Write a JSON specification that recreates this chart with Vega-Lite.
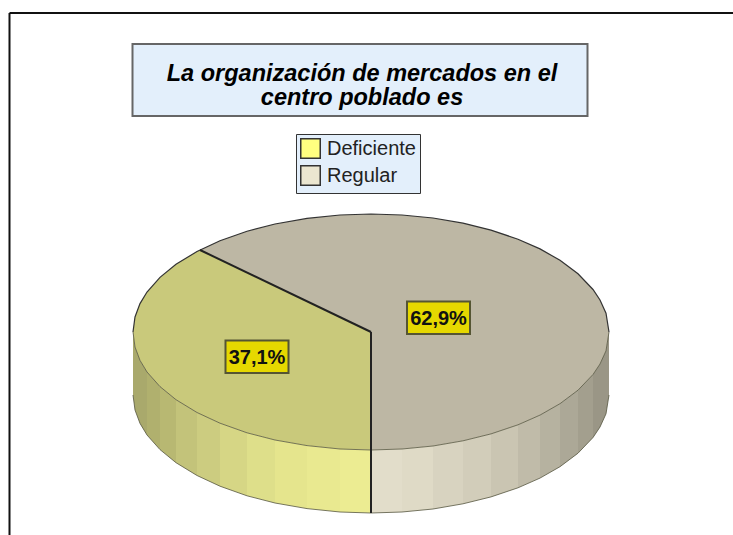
{
"$schema":"https://vega.github.io/schema/vega-lite/v6.json",
"width":733,"height":535,"padding":0,"autosize":{"type":"none"},"background":"white",
"view":{"stroke":null},
"title":{"text":["La organización de mercados en el","centro poblado es"],"frame":"group","anchor":"middle","orient":"top","offset":-128,"dx":-4.5,"font":"Liberation Sans","fontSize":23.5,"fontWeight":"bold","fontStyle":"italic","color":"#000000","lineHeight":24,"baseline":"alphabetic"},
"datasets":{
"frame":[{"x":9.5,"x2":733,"y":13,"y2":13},{"x":9.5,"x2":9.5,"y":13,"y2":535}],
"boxes":[{"x":132.5,"x2":587.5,"y":44,"y2":116}],
"walls":[
{"s":"w1","x":133,"y":332,"y2":395},{"s":"w1","x":135,"y":347,"y2":410},{"s":"w1","x":140,"y":360.4,"y2":423.4},{"s":"w1","x":147,"y":372,"y2":435},
{"s":"w2","x":147,"y":372,"y2":435},{"s":"w2","x":160,"y":386.6,"y2":449.6},
{"s":"w3","x":160,"y":386.6,"y2":449.6},{"s":"w3","x":176,"y":399.7,"y2":462.7},
{"s":"w4","x":176,"y":399.7,"y2":462.7},{"s":"w4","x":197,"y":412.5,"y2":475.5},
{"s":"w5","x":197,"y":412.5,"y2":475.5},{"s":"w5","x":220,"y":423.2,"y2":486.2},
{"s":"w6","x":220,"y":423.2,"y2":486.2},{"s":"w6","x":247,"y":432.8,"y2":495.8},
{"s":"w7","x":247,"y":432.8,"y2":495.8},{"s":"w7","x":275,"y":440,"y2":503},
{"s":"w8","x":275,"y":440,"y2":503},{"s":"w8","x":307,"y":445.6,"y2":508.6},
{"s":"w9","x":307,"y":445.6,"y2":508.6},{"s":"w9","x":340,"y":449,"y2":512},
{"s":"w10","x":340,"y":449,"y2":512},{"s":"w10","x":371,"y":450,"y2":513},
{"s":"r1","x":371,"y":450,"y2":513},{"s":"r1","x":402,"y":449,"y2":512},
{"s":"r2","x":402,"y":449,"y2":512},{"s":"r2","x":433,"y":446,"y2":509},
{"s":"r3","x":433,"y":446,"y2":509},{"s":"r3","x":463,"y":440.8,"y2":503.8},
{"s":"r4","x":463,"y":440.8,"y2":503.8},{"s":"r4","x":491,"y":433.9,"y2":496.9},
{"s":"r5","x":491,"y":433.9,"y2":496.9},{"s":"r5","x":518,"y":424.8,"y2":487.8},
{"s":"r6","x":518,"y":424.8,"y2":487.8},{"s":"r6","x":540,"y":415.1,"y2":478.1},
{"s":"r7","x":540,"y":415.1,"y2":478.1},{"s":"r7","x":560,"y":403.7,"y2":466.7},
{"s":"r8","x":560,"y":403.7,"y2":466.7},{"s":"r8","x":578,"y":390.2,"y2":453.2},
{"s":"r9","x":578,"y":390.2,"y2":453.2},{"s":"r9","x":593,"y":374.5,"y2":437.5},
{"s":"r10","x":593,"y":374.5,"y2":437.5},{"s":"r10","x":600,"y":364,"y2":427},{"s":"r10","x":606,"y":350.8,"y2":413.8},{"s":"r10","x":609,"y":332,"y2":395}
],
"tops":[
{"s":"topD","x":133,"y":332,"y2":332},{"s":"topD","x":135,"y":317,"y2":347},{"s":"topD","x":140,"y":303.6,"y2":360.4},{"s":"topD","x":147,"y":292,"y2":372},{"s":"topD","x":160,"y":277.4,"y2":386.6},{"s":"topD","x":176,"y":264.3,"y2":399.7},{"s":"topD","x":197,"y":251.5,"y2":412.5},{"s":"topD","x":200,"y":250,"y2":414},{"s":"topD","x":220,"y":259.6,"y2":423.2},{"s":"topD","x":247,"y":272.5,"y2":432.8},{"s":"topD","x":275,"y":286,"y2":440},{"s":"topD","x":307,"y":301.3,"y2":445.6},{"s":"topD","x":340,"y":317.1,"y2":449},{"s":"topD","x":371,"y":332,"y2":450},
{"s":"topR","x":200,"y":250,"y2":250},{"s":"topR","x":220,"y":240.8,"y2":259.6},{"s":"topR","x":247,"y":231.2,"y2":272.5},{"s":"topR","x":275,"y":224,"y2":286},{"s":"topR","x":307,"y":218.4,"y2":301.3},{"s":"topR","x":340,"y":215,"y2":317.1},{"s":"topR","x":371,"y":214,"y2":332},{"s":"topR","x":371.01,"y":214,"y2":450},{"s":"topR","x":402,"y":215,"y2":449},{"s":"topR","x":433,"y":218,"y2":446},{"s":"topR","x":463,"y":223.2,"y2":440.8},{"s":"topR","x":491,"y":230.1,"y2":433.9},{"s":"topR","x":518,"y":239.2,"y2":424.8},{"s":"topR","x":540,"y":248.9,"y2":415.1},{"s":"topR","x":560,"y":260.3,"y2":403.7},{"s":"topR","x":578,"y":273.8,"y2":390.2},{"s":"topR","x":593,"y":289.5,"y2":374.5},{"s":"topR","x":600,"y":300,"y2":364},{"s":"topR","x":606,"y":313.2,"y2":350.8},{"s":"topR","x":609,"y":332,"y2":332}
],
"rims":[
{"e":"upper","x":133,"y":332},{"e":"upper","x":135,"y":317},{"e":"upper","x":140,"y":303.6},{"e":"upper","x":147,"y":292},{"e":"upper","x":160,"y":277.4},{"e":"upper","x":176,"y":264.3},{"e":"upper","x":197,"y":251.5},{"e":"upper","x":220,"y":240.8},{"e":"upper","x":247,"y":231.2},{"e":"upper","x":275,"y":224},{"e":"upper","x":307,"y":218.4},{"e":"upper","x":340,"y":215},{"e":"upper","x":371,"y":214},{"e":"upper","x":402,"y":215},{"e":"upper","x":433,"y":218},{"e":"upper","x":463,"y":223.2},{"e":"upper","x":491,"y":230.1},{"e":"upper","x":518,"y":239.2},{"e":"upper","x":540,"y":248.9},{"e":"upper","x":560,"y":260.3},{"e":"upper","x":578,"y":273.8},{"e":"upper","x":593,"y":289.5},{"e":"upper","x":600,"y":300},{"e":"upper","x":606,"y":313.2},{"e":"upper","x":609,"y":332}
],
"front":[
{"e":"base","x":133,"y":395},{"e":"base","x":135,"y":410},{"e":"base","x":140,"y":423.4},{"e":"base","x":147,"y":435},{"e":"base","x":160,"y":449.6},{"e":"base","x":176,"y":462.7},{"e":"base","x":197,"y":475.5},{"e":"base","x":220,"y":486.2},{"e":"base","x":247,"y":495.8},{"e":"base","x":275,"y":503},{"e":"base","x":307,"y":508.6},{"e":"base","x":340,"y":512},{"e":"base","x":371,"y":513},{"e":"base","x":402,"y":512},{"e":"base","x":433,"y":509},{"e":"base","x":463,"y":503.8},{"e":"base","x":491,"y":496.9},{"e":"base","x":518,"y":487.8},{"e":"base","x":540,"y":478.1},{"e":"base","x":560,"y":466.7},{"e":"base","x":578,"y":453.2},{"e":"base","x":593,"y":437.5},{"e":"base","x":600,"y":427},{"e":"base","x":606,"y":413.8},{"e":"base","x":609,"y":395},
{"e":"front","x":133,"y":332},{"e":"front","x":135,"y":347},{"e":"front","x":140,"y":360.4},{"e":"front","x":147,"y":372},{"e":"front","x":160,"y":386.6},{"e":"front","x":176,"y":399.7},{"e":"front","x":197,"y":412.5},{"e":"front","x":220,"y":423.2},{"e":"front","x":247,"y":432.8},{"e":"front","x":275,"y":440},{"e":"front","x":307,"y":445.6},{"e":"front","x":340,"y":449},{"e":"front","x":371,"y":450},{"e":"front","x":402,"y":449},{"e":"front","x":433,"y":446},{"e":"front","x":463,"y":440.8},{"e":"front","x":491,"y":433.9},{"e":"front","x":518,"y":424.8},{"e":"front","x":540,"y":415.1},{"e":"front","x":560,"y":403.7},{"e":"front","x":578,"y":390.2},{"e":"front","x":593,"y":374.5},{"e":"front","x":600,"y":364},{"e":"front","x":606,"y":350.8},{"e":"front","x":609,"y":332}
],
"edges":[{"x":200,"y":250,"x2":371,"y2":332},{"x":371,"y":332,"x2":371,"y2":513}],
"labels":[
{"category":"Deficiente","share":"37,1%","x":257,"y":357.5,"x0":225.5,"x1":288.5,"y0":340.5,"y1":373},
{"category":"Regular","share":"62,9%","x":438.5,"y":318.5,"x0":407,"x1":470,"y0":301.5,"y1":334}
]
},
"encoding":{
"x":{"field":"x","type":"quantitative","scale":{"domain":[0,733],"nice":false,"zero":false},"axis":null},
"y":{"field":"y","type":"quantitative","scale":{"domain":[535,0],"nice":false,"zero":false},"axis":null}
},
"layer":[
{"data":{"name":"frame"},"mark":{"type":"rule","stroke":"#111111","strokeWidth":2},"encoding":{"x2":{"field":"x2"},"y2":{"field":"y2"}}},
{"data":{"name":"boxes"},"mark":{"type":"rect","fill":"#e3effb","stroke":"#666666","strokeWidth":2},"encoding":{"x2":{"field":"x2"},"y2":{"field":"y2"}}},
{"data":{"name":"tops"},"mark":{"type":"area"},"encoding":{
"y2":{"field":"y2"},
"color":{"field":"s","type":"nominal","scale":{
"domain":["Deficiente","Regular","topD","topR","w1","w2","w3","w4","w5","w6","w7","w8","w9","w10","r1","r2","r3","r4","r5","r6","r7","r8","r9","r10"],
"range":["#ffff80","#ebe6d0","#c9c97b","#bdb7a4","#a9a96c","#b0b06e","#b8b872","#c3c37a","#cccc80","#d6d685","#dedf8a","#e5e58d","#e9e990","#ecec92","#e2ddca","#dfdac6","#d8d3c0","#d2cdba","#cac5b2","#c0bba9","#b6b2a0","#aca897","#a39f8e","#9a9686"]},
"legend":{"values":["Deficiente","Regular"],"title":null,"orient":"none","legendX":296,"legendY":134,"padding":4,"fillColor":"#e3effb","strokeColor":"#333333","symbolType":"square","symbolSize":380,"symbolStrokeColor":"#333333","symbolStrokeWidth":1.5,"symbolOpacity":1,"labelFont":"Liberation Sans","labelFontSize":20,"labelColor":"#222222","labelOffset":6,"rowPadding":0,"labelLimit":200}}
}},
{"data":{"name":"walls"},"mark":{"type":"area"},"encoding":{"y2":{"field":"y2"},"color":{"field":"s","type":"nominal"}}},
{"data":{"name":"rims"},"mark":{"type":"line","stroke":"#333333","strokeWidth":1.2},"encoding":{"detail":{"field":"e"}}},
{"data":{"name":"front"},"mark":{"type":"line","stroke":"#55553f","strokeWidth":0.8},"encoding":{"detail":{"field":"e"}}},
{"data":{"name":"edges"},"mark":{"type":"rule","stroke":"#222222","strokeWidth":2},"encoding":{"x2":{"field":"x2"},"y2":{"field":"y2"}}},
{"data":{"name":"labels"},"mark":{"type":"rect","fill":"#e6d800","stroke":"#555533","strokeWidth":2},"encoding":{"x":{"field":"x0","type":"quantitative"},"x2":{"field":"x1"},"y":{"field":"y0","type":"quantitative"},"y2":{"field":"y1"}}},
{"data":{"name":"labels"},"mark":{"type":"text","font":"Liberation Sans","fontSize":20,"fontWeight":"bold","color":"#111111","baseline":"middle"},"encoding":{"text":{"field":"share"}}}
]
}
